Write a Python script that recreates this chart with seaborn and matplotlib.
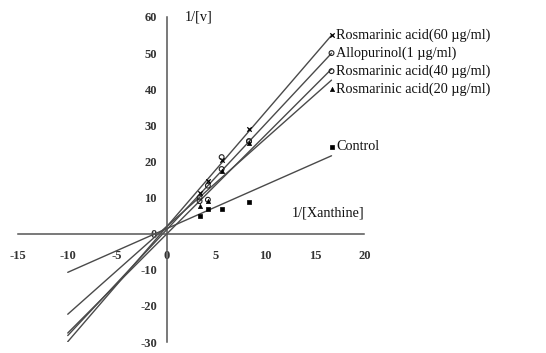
import numpy as np
import pandas as pd
import matplotlib
matplotlib.use("Agg")
import matplotlib.pyplot as plt
import seaborn as sns

# 1/[Xanthine] values of the measured points
inv_s = [3.33, 4.17, 5.56, 8.33, 16.67]

series_names = [
    "Rosmarinic acid(60 \u00b5g/ml)",
    "Allopurinol(1 \u00b5g/ml)",
    "Rosmarinic acid(40 \u00b5g/ml)",
    "Rosmarinic acid(20 \u00b5g/ml)",
    "Control",
]
ra60 = [11.3, 14.5, 20.5, 29.0, 55.0]
allo = [10.0, 13.3, 21.2, 25.6, 50.0]
ra40 = [9.0, 9.4, 17.9, 25.6, 45.0]
ra20 = [7.6, 9.0, 17.3, 25.0, 40.0]
control = [4.8, 6.8, 6.8, 8.9, 24.0]

# trend lines (slope, intercept)
slopes = [3.18, 2.93, 2.74, 2.43, 1.21]
intercepts = [1.9, 1.1, -0.1, 2.0, 1.4]
line_x = [-10.0, 16.67]

markers = ["x", "o", "o", "^", "s"]
filled = [True, False, False, True, True]

xticks = [-15, -10, -5, 0, 5, 10, 15, 20]
yticks = [-30, -20, -10, 0, 10, 20, 30, 40, 50, 60]

sns.set_theme(style="white")
plt.rcParams["font.family"] = ["Liberation Serif", "DejaVu Serif"]
plt.rcParams["axes.unicode_minus"] = False

fig = plt.figure(figsize=(5.46, 3.53), dpi=100)
ax = fig.add_axes([0.0335, 0.031, 0.634, 0.921])

values = [ra60, allo, ra40, ra20, control]
gray = "#4a4a4a"
for name, yv, m, f, k, b in zip(series_names, values, markers, filled, slopes, intercepts):
    line_df = pd.DataFrame({"x": line_x, "y": [k * v + b for v in line_x]})
    sns.lineplot(data=line_df, x="x", y="y", ax=ax, color=gray, linewidth=1.0)
    pts = pd.DataFrame({"x": inv_s, "y": yv})
    if m == "x":
        sns.scatterplot(data=pts, x="x", y="y", ax=ax, marker="x", color="black",
                        s=10, linewidth=0.9, zorder=3)
    elif f:
        sns.scatterplot(data=pts, x="x", y="y", ax=ax, marker=m, color="black",
                        s=9, edgecolor="black", linewidth=0.5, zorder=3)
    else:
        sns.scatterplot(data=pts, x="x", y="y", ax=ax, marker=m, facecolor="none",
                        edgecolor="#222222", s=12, linewidth=0.8, zorder=3)
    ax.annotate(name, xy=(inv_s[-1], yv[-1]), xytext=(3.5, 0), textcoords="offset points",
                ha="left", va="center", fontsize=10.3, color="#111111")

ax.set_xlim(-15, 20)
ax.set_ylim(-30, 60)
ax.set_xticks(xticks)
ax.set_yticks(yticks)
ax.set_xlabel("")
ax.set_ylabel("")

for side in ["top", "right"]:
    ax.spines[side].set_visible(False)
ax.spines["left"].set_position(("data", 0))
ax.spines["bottom"].set_position(("data", 0))
for side in ["left", "bottom"]:
    ax.spines[side].set_color("#555555")
    ax.spines[side].set_linewidth(1.1)

ax.tick_params(axis="x", direction="in", length=3, width=1, color="#555555",
               pad=12, labelsize=9)
ax.tick_params(axis="y", direction="in", length=3, width=1, color="#555555",
               pad=7, labelsize=9)
for lab in ax.get_xticklabels() + ax.get_yticklabels():
    lab.set_fontweight("bold")
    lab.set_color("#333333")

ax.text(1.8, 60, "1/[v]", ha="left", va="center", fontsize=10.3, color="#111111")
ax.text(20, 5.8, "1/[Xanthine]", ha="right", va="center", fontsize=10.3, color="#111111")

fig.savefig("out.png", dpi=100)
